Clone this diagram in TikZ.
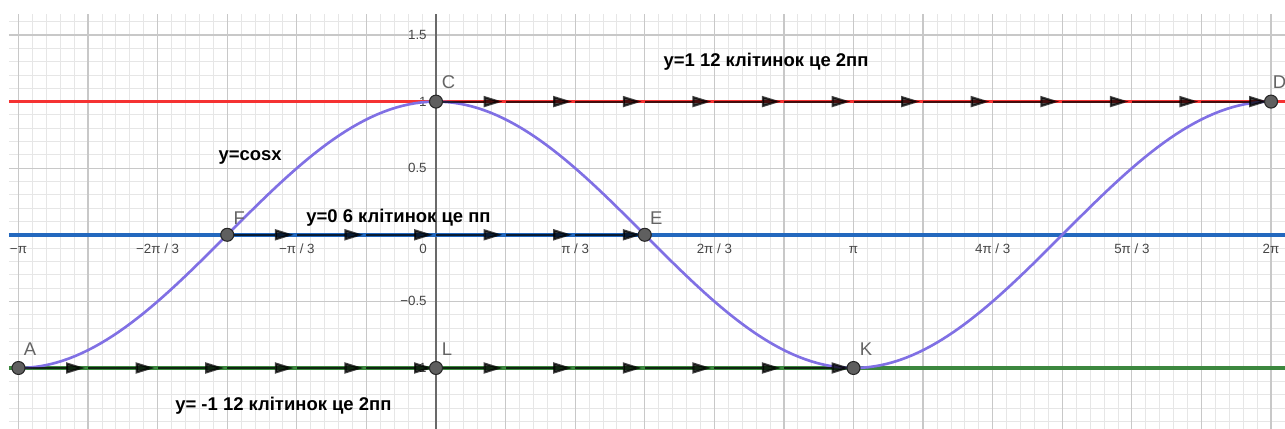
\documentclass[tikz,border=0pt]{standalone}
\usepackage{fontspec}
\setmainfont{Liberation Sans}
\usetikzlibrary{arrows.meta}

\definecolor{gridmajor}{RGB}{200,200,200}
\definecolor{gridminor}{RGB}{230,230,230}
\definecolor{axisgray}{RGB}{105,105,105}
\definecolor{lred}{RGB}{245,50,50}
\definecolor{lblue}{RGB}{35,104,190}
\definecolor{lgreen}{RGB}{60,135,62}
\definecolor{cosline}{RGB}{128,112,228}
\definecolor{ptfill}{RGB}{95,95,95}
\definecolor{lblgray}{RGB}{100,100,100}
\definecolor{tickgray}{RGB}{70,70,70}

\begin{document}
\begin{tikzpicture}[x=2.658cm,y=2.664cm,
  minorgrid/.style={gridminor,line width=0.5pt},
  majorgrid/.style={gridmajor,line width=0.7pt},
  level/.style={line width=2pt},
  vec/.style={black,opacity=0.72,line width=1.2pt,-{Triangle[length=0.38cm,width=0.22cm]},shorten >=0.06cm},
  pt/.style={circle,fill=ptfill,draw=black!85,line width=0.6pt,minimum size=0.26cm,inner sep=0pt},
  ptlbl/.style={anchor=base west,text=lblgray,font=\fontsize{10.5}{12}\selectfont,inner sep=0pt},
  xlbl/.style={anchor=base,text=tickgray,font=\fontsize{7.6}{9}\selectfont,inner sep=0pt,yshift=-0.366cm},
  ylbl/.style={anchor=east,text=tickgray,font=\fontsize{7.6}{9}\selectfont,inner sep=0pt,xshift=-0.18cm},
  note/.style={anchor=base west,font=\fontsize{10.5}{12}\selectfont\bfseries,inner sep=0pt}]

\useasboundingbox (-8.72cm,-3.884cm) rectangle (16.98cm,4.696cm);

% grid: minor every pi/30 and 0.1, major every pi/6 and 0.5
\foreach \k in {-30,...,61} \draw[minorgrid] ({\k*pi/30},-1.458) -- ({\k*pi/30},1.658);
\foreach \k in {-14,...,16} \draw[minorgrid] (-3.213,{\k/10}) -- (6.388,{\k/10});
\foreach \k in {-6,...,12} \draw[majorgrid] ({\k*pi/6},-1.458) -- ({\k*pi/6},1.658);
\foreach \k in {-2,...,3} \draw[majorgrid] (-3.213,{\k/2}) -- (6.388,{\k/2});

% y axis
\draw[axisgray,line width=1.1pt] (0,-1.458) -- (0,1.658);

% axis labels
\node[xlbl] (xm6) at ({-pi},0) {−π};
\node[xlbl] (xm4) at ({-2*pi/3},0) {−2π / 3};
\node[xlbl] (xm2) at ({-pi/3},0) {−π / 3};
\node[xlbl,xshift=-0.26cm] (x0) at (0,0) {0};
\node[xlbl] (x2) at ({pi/3},0) {π / 3};
\node[xlbl] (x4) at ({2*pi/3},0) {2π / 3};
\node[xlbl] (x6) at ({pi},0) {π};
\node[xlbl] (x8) at ({4*pi/3},0) {4π / 3};
\node[xlbl] (x10) at ({5*pi/3},0) {5π / 3};
\node[xlbl] (x12) at ({2*pi},0) {2π};
\node[ylbl] (y15) at (0,1.5) {1.5};
\node[ylbl] (y1) at (0,1) {1};
\node[ylbl] (y05) at (0,0.5) {0.5};
\node[ylbl] (ym05) at (0,-0.5) {−0.5};
\node[ylbl] (ym1) at (0,-1) {−1};

% the three levels and the graph
\draw[level,lred] (-3.213,1) -- (6.388,1);
\draw[level,lblue] (-3.213,0) -- (6.388,0);
\draw[level,lgreen] (-3.213,-1) -- (6.388,-1);
\draw[cosline,line width=1.5pt] plot[domain=-3.14159:6.28319,samples=200] (\x,{cos(\x r)});

% steps of pi/6 on each level
\foreach \i in {0,...,12} \coordinate (c\i) at ({\i*pi/6},1);
\foreach \i in {0,...,6} \coordinate (z\i) at ({-pi/2+\i*pi/6},0);
\foreach \i in {0,...,12} \coordinate (m\i) at ({-pi+\i*pi/6},-1);

\foreach \i [count=\j from 1] in {0,...,11} \draw[vec] (c\i) -- (c\j);
\foreach \i [count=\j from 1] in {0,...,5} \draw[vec] (z\i) -- (z\j);
\foreach \i [count=\j from 1] in {0,...,11} \draw[vec] (m\i) -- (m\j);

% points
\node[pt] (A) at (m0) {};
\node[pt] (L) at (m6) {};
\node[pt] (K) at (m12) {};
\node[pt] (F) at (z0) {};
\node[pt] (E) at (z6) {};
\node[pt] (C) at (c0) {};
\node[pt] (D) at (c12) {};

\node[ptlbl] (Albl) at ([xshift=0.1cm,yshift=0.24cm]A.center) {A};
\node[ptlbl] (Llbl) at ([xshift=0.11cm,yshift=0.245cm]L.center) {L};
\node[ptlbl] (Klbl) at ([xshift=0.12cm,yshift=0.245cm]K.center) {K};
\node[ptlbl] (Flbl) at ([xshift=0.12cm,yshift=0.21cm]F.center) {F};
\node[ptlbl] (Elbl) at ([xshift=0.1cm,yshift=0.21cm]E.center) {E};
\node[ptlbl] (Clbl) at ([xshift=0.11cm,yshift=0.27cm]C.center) {C};
\node[ptlbl] (Dlbl) at ([xshift=0.03cm,yshift=0.27cm]D.center) {D};

% notes
\node[note] (tone) at (4.546cm,3.36cm) {y=1 12 клітинок це 2пп};
\node[note] (tcos) at (-4.354cm,1.48cm) {y=cosx};
\node[note] (tzero) at (-2.6cm,0.24cm) {y=0 6 клітинок це пп};
\node[note] (tmone) at (-5.22cm,-3.52cm) {y= -1 12 клітинок це 2пп};

\end{tikzpicture}
\end{document}
